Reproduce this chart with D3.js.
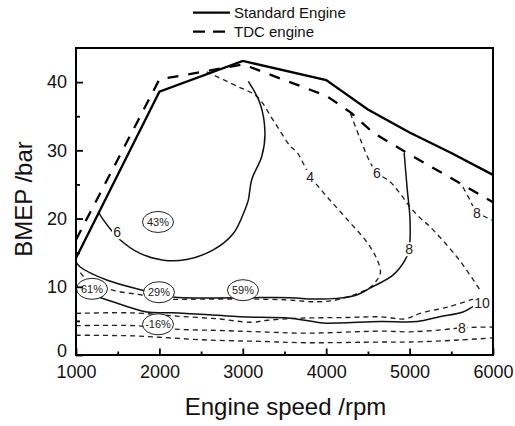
<!DOCTYPE html>
<html>
<head>
<meta charset="utf-8">
<script src="https://cdn.jsdelivr.net/npm/d3@7"></script>
<style>
  body { margin: 0; background: #fff; }
  svg { font-family: "Liberation Sans", Arial, sans-serif; }
</style>
</head>
<body>
<div id="chart"></div>
<script>
// full load curves
const standardRpm  = [1000, 2000, 3000, 4000, 4500, 5000, 5500, 6000];
const standardBmep = [14.2, 38.6, 43.1, 40.3, 36.0, 32.6, 29.6, 26.4];
const tdcRpm  = [1000, 2000, 2600, 3000, 3500, 4000, 4300, 4560, 5000, 6000];
const tdcBmep = [16.9, 40.4, 41.7, 42.6, 40.3, 38.0, 35.5, 32.6, 29.4, 22.4];

// thin solid contours (standard engine)
const solid6Rpm  = [1268, 1328, 1528, 1768, 2047, 2327, 2646, 2886, 3026, 3066, 3107, 3227, 3266, 3206, 3066];
const solid6Bmep = [21.0, 19.8, 16.9, 14.9, 13.9, 14.0, 15.4, 17.8, 21.3, 22.7, 25.7, 29.1, 32.5, 36.9, 40.1];
const solid8Rpm  = [4935, 4970, 5005, 4994, 4945, 4800, 4525, 4366, 4126, 3840, 3570, 2930, 2160, 1800, 1368, 1050, 1000];
const solid8Bmep = [29.6, 24.5, 19.8, 15.5, 13.9, 11.7, 9.8, 8.8, 8.3, 8.2, 8.4, 8.4, 8.5, 9.5, 11.0, 12.9, 13.6];
const solid10Rpm  = [1000, 1368, 1850, 2160, 2600, 2970, 3570, 3960, 4165, 4650, 5090, 5360, 5640, 5760, 5830];
const solid10Bmep = [9.6, 8.1, 6.3, 6.2, 5.9, 5.6, 5.4, 4.7, 4.7, 4.9, 4.9, 5.6, 6.3, 7.1, 7.6];

// thin dashed contours (TDC engine)
const dash4Rpm  = [2567, 2930, 3170, 3360, 3570, 3650, 3810, 4010, 4250, 4490, 4610, 4650, 4610, 4525, 4170, 3890, 3500, 3000, 2500, 2100, 1790, 1440, 1150, 1040];
const dash4Bmep = [41.5, 39.4, 37.9, 34.5, 30.6, 29.7, 26.2, 23.2, 19.9, 16.5, 14.0, 12.1, 11.0, 9.9, 8.2, 7.8, 8.1, 8.2, 8.2, 8.2, 8.8, 9.5, 10.8, 12.3];
const dash6Rpm  = [4290, 4410, 4525, 4610, 4765, 4885, 5005, 5125, 5245, 5565, 5764, 5845];
const dash6Bmep = [35.4, 31.6, 28.3, 26.7, 25.4, 23.7, 21.7, 20.1, 18.8, 14.4, 11.0, 9.5];
const dash8TopRpm  = [5640, 5720, 5800, 5900, 6000];
const dash8TopBmep = [24.6, 22.8, 21.0, 20.3, 19.7];
const dashRow1Rpm  = [1000, 1500, 1800, 2200, 2700, 3100, 3300, 3700, 4250, 4650, 4950, 5125, 5480, 5760];
const dashRow1Bmep = [6.1, 6.2, 6.1, 5.7, 5.3, 4.8, 5.1, 5.4, 5.5, 5.6, 5.3, 6.1, 7.1, 8.2];
const dashRow2Rpm  = [1000, 1700, 2160, 2700, 3200, 3770, 4650, 5000, 5400, 5630, 6000];
const dashRow2Bmep = [4.3, 4.3, 3.8, 3.6, 3.4, 3.2, 3.5, 3.4, 3.7, 4.0, 4.1];
const dashRow3Rpm  = [1000, 1700, 2000, 2570, 3200, 3770, 4650, 5000, 5600, 6000];
const dashRow3Bmep = [2.9, 2.8, 2.6, 2.2, 2.0, 1.8, 1.9, 1.9, 2.2, 2.5];

// contour labels
const labelText = ["6", "4", "6", "8", "8", "10", "8"];
const labelRpm  = [1492, 3806, 4609, 4993, 5808, 5868, 5628];
const labelBmep = [18.0, 26.1, 26.7, 15.5, 20.8, 7.6, 4.0];

// circled percentages
const noteText = ["43%", "61%", "29%", "59%", "-16%"];
const noteRpm  = [1983, 1192, 1995, 3002, 1983];
const noteBmep = [19.5, 9.7, 9.2, 9.5, 4.5];

const xTicks = [1000, 2000, 3000, 4000, 5000, 6000];
const xMinor = [1500, 2500, 3500, 4500, 5500];
const yTicks = [0, 10, 20, 30, 40];
const yMinor = [5, 15, 25, 35];

const W = 515, H = 426;
const L = 76, R = 493, T = 48, B = 355;

const svg = d3.select("#chart").append("svg").attr("width", W).attr("height", H);

const x = d3.scaleLinear().domain([1000, 6000]).range([L, R]);
const y = d3.scaleLinear().domain([0, 45]).range([B, T]);

const zip = (a, b) => a.map((v, i) => [v, b[i]]);
const smooth = d3.line().x(d => x(d[0])).y(d => y(d[1])).curve(d3.curveCatmullRom.alpha(0.5));
const straight = d3.line().x(d => x(d[0])).y(d => y(d[1]));

// thin dashed contours
const thinDashed = [
  [dash4Rpm, dash4Bmep], [dash6Rpm, dash6Bmep], [dash8TopRpm, dash8TopBmep],
  [dashRow1Rpm, dashRow1Bmep], [dashRow2Rpm, dashRow2Bmep], [dashRow3Rpm, dashRow3Bmep]
];
svg.append("g").selectAll("path").data(thinDashed).join("path")
  .attr("d", d => smooth(zip(d[0], d[1])))
  .attr("fill", "none").attr("stroke", "#222").attr("stroke-width", 1.35)
  .attr("stroke-dasharray", "5,4");

// thin solid contours
const thinSolid = [[solid6Rpm, solid6Bmep], [solid8Rpm, solid8Bmep], [solid10Rpm, solid10Bmep]];
svg.append("g").selectAll("path").data(thinSolid).join("path")
  .attr("d", d => smooth(zip(d[0], d[1])))
  .attr("fill", "none").attr("stroke", "#111").attr("stroke-width", 1.5);

// full load lines
svg.append("path").attr("d", straight(zip(standardRpm, standardBmep)))
  .attr("fill", "none").attr("stroke", "#000").attr("stroke-width", 2.3);
svg.append("path").attr("d", straight(zip(tdcRpm, tdcBmep)))
  .attr("fill", "none").attr("stroke", "#000").attr("stroke-width", 2.3)
  .attr("stroke-dasharray", "11,10");

// contour labels with white backing
const lab = svg.append("g").selectAll("g").data(labelText).join("g")
  .attr("transform", (d, i) => `translate(${x(labelRpm[i])},${y(labelBmep[i])})`);
lab.append("rect")
  .attr("x", d => -d.length * 4 - 1).attr("y", -7).attr("width", d => d.length * 8 + 2).attr("height", 14)
  .attr("fill", "#fff");
lab.append("text").attr("text-anchor", "middle").attr("dy", "0.36em")
  .attr("font-size", 14).attr("fill", "#222").text(d => d);

// circled notes
const note = svg.append("g").selectAll("g").data(noteText).join("g")
  .attr("transform", (d, i) => `translate(${x(noteRpm[i])},${y(noteBmep[i])})`);
note.append("ellipse").attr("rx", 15.5).attr("ry", 10.5)
  .attr("fill", "#fff").attr("stroke", "#222").attr("stroke-width", 1);
note.append("text").attr("text-anchor", "middle").attr("dy", "0.36em")
  .attr("font-size", 11).attr("fill", "#222").text(d => d);

// axes, ticks inside
const xAxis = svg.append("g").attr("transform", `translate(0,${B})`)
  .call(d3.axisBottom(x).tickValues(xTicks).tickSizeInner(-6.5).tickSizeOuter(0).tickPadding(10).tickFormat(d3.format("d")));
const xAxisMinor = svg.append("g").attr("transform", `translate(0,${B})`)
  .call(d3.axisBottom(x).tickValues(xMinor).tickSizeInner(-3.5).tickSizeOuter(0).tickFormat(""));
const yAxis = svg.append("g").attr("transform", `translate(${L},0)`)
  .call(d3.axisLeft(y).tickValues(yTicks).tickSizeInner(-7).tickSizeOuter(0).tickPadding(9));
const yAxisMinor = svg.append("g").attr("transform", `translate(${L},0)`)
  .call(d3.axisLeft(y).tickValues(yMinor).tickSizeInner(-4).tickSizeOuter(0).tickFormat(""));

[xAxis, xAxisMinor, yAxis, yAxisMinor].forEach(a => {
  a.select(".domain").remove();
  a.selectAll("line").attr("stroke", "#000").attr("stroke-width", 1.8);
  a.selectAll("text").attr("font-size", 18).attr("fill", "#111")
    .attr("font-family", "'Liberation Sans', Arial, sans-serif");
});
// the "0" sits just above the "1000" as in the original
yAxis.selectAll(".tick text").filter(d => d === 0).attr("dy", "0.1em");

// frame
svg.append("rect").attr("x", L).attr("y", T).attr("width", R - L).attr("height", B - T)
  .attr("fill", "none").attr("stroke", "#000").attr("stroke-width", 2);

// axis titles
svg.append("text").attr("x", (L + R) / 2 + 1).attr("y", 415).attr("text-anchor", "middle")
  .attr("font-size", 24).attr("fill", "#111").text("Engine speed /rpm");
svg.append("text").attr("transform", "translate(32,199) rotate(-90)").attr("text-anchor", "middle")
  .attr("font-size", 24).attr("fill", "#111").text("BMEP /bar");

// legend
const legend = svg.append("g");
legend.append("line").attr("x1", 193).attr("x2", 230).attr("y1", 12.7).attr("y2", 12.7)
  .attr("stroke", "#000").attr("stroke-width", 2.2);
legend.append("line").attr("x1", 193).attr("x2", 230).attr("y1", 31.7).attr("y2", 31.7)
  .attr("stroke", "#000").attr("stroke-width", 2.2).attr("stroke-dasharray", "12,8");
legend.append("text").attr("x", 234).attr("y", 18).attr("font-size", 15).attr("fill", "#111").text("Standard Engine");
legend.append("text").attr("x", 234).attr("y", 37).attr("font-size", 15).attr("fill", "#111").text("TDC engine");
</script>
</body>
</html>
